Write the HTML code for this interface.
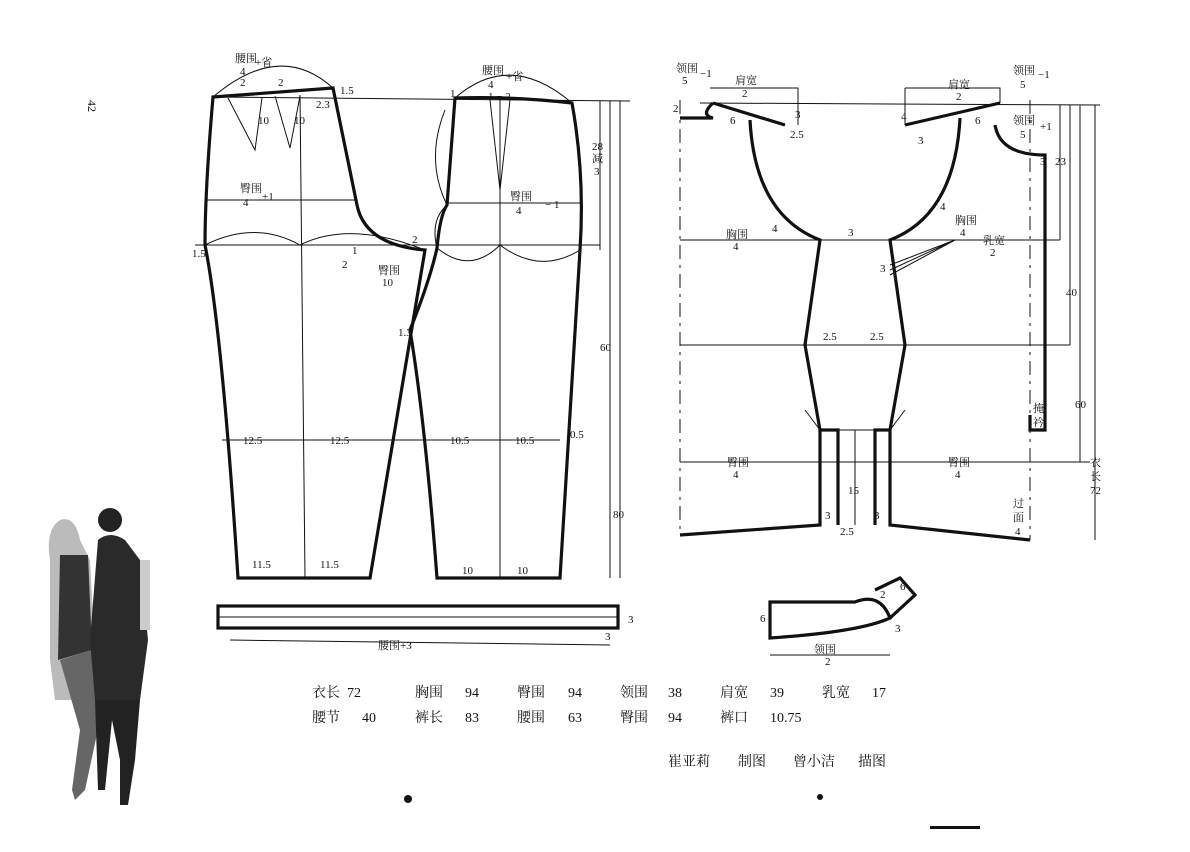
<!DOCTYPE html>
<html><head><meta charset="utf-8"><style>
html,body{margin:0;padding:0;background:#fff;}
svg{display:block;}
text{font-family:"Liberation Serif","Noto Serif CJK SC",serif;fill:#111;}
</style></head><body>
<svg width="1190" height="852" viewBox="0 0 1190 852" xmlns="http://www.w3.org/2000/svg">
<rect width="1190" height="852" fill="#fff"/>
<g fill="none" stroke="#111">
<g stroke-width="3.2">
<path d="M213,97 L333,88 L357,205 Q365,245 425,250 L370,578 L238,578 Q222,330 205,245 Q205,190 213,97 Z"/>
<path d="M455,98 Q510,96 572,103 Q585,175 580,250 L560,578 L437,578 Q425,420 410,330 Q430,280 437,248 Q440,215 447,205 Z"/>
<rect x="218" y="606" width="400" height="22"/>
</g>
<g stroke-width="1">
<line x1="195" y1="245" x2="600" y2="245"/>
<line x1="213" y1="97" x2="630" y2="101"/>
<line x1="205" y1="200" x2="357" y2="200"/>
<line x1="447" y1="203" x2="580" y2="203"/>
<line x1="222" y1="440" x2="560" y2="440"/>
<line x1="300" y1="95" x2="305" y2="578"/>
<line x1="500" y1="100" x2="500" y2="578"/>
<line x1="425" y1="250" x2="370" y2="578"/>
<path d="M228,98 L255,150 L262,98 M275,96 L290,148 L300,96 M490,100 L500,190 L510,100"/>
<path d="M205,245 Q255,220 300,245 Q350,220 425,250 M437,248 Q470,275 500,245 Q540,275 580,250"/>
<path d="M213,97 Q280,40 333,88 M455,98 Q510,50 572,103"/>
<path d="M445,110 Q425,160 447,205 Q430,220 437,248"/>
<line x1="610" y1="101" x2="610" y2="578"/>
<line x1="620" y1="101" x2="620" y2="578"/>
<line x1="600" y1="101" x2="600" y2="250"/>
<line x1="230" y1="640" x2="610" y2="645"/>
<line x1="218" y1="617" x2="618" y2="617"/>
</g>
<g stroke-width="3.2">
<path d="M713,103 L785,125 M713,103 Q700,115 713,118 L680,118"/>
<path d="M750,120 Q755,215 820,240 L805,345 L820,430 L820,525 L680,535"/>
<path d="M905,125 L1000,103 M960,118 Q955,215 890,240 L905,345 L890,430 L890,525 L1030,540"/>
<path d="M995,125 Q1000,155 1045,155 L1045,250"/>
<path d="M1030,415 L1030,430 L1045,430 L1045,250"/>
<path d="M820,430 L838,430 L838,525 M875,525 L875,430 L890,430"/>
<path d="M770,602 L855,602 Q880,592 890,618 Q860,632 770,638 Z"/>
<path d="M875,590 L900,578 L915,595 L890,618"/>
</g>
<g stroke-width="1">
<line x1="680" y1="100" x2="680" y2="535" stroke-dasharray="14,6,3,6"/>
<line x1="1030" y1="100" x2="1030" y2="540" stroke-dasharray="14,6,3,6"/>
<line x1="680" y1="240" x2="1060" y2="240"/>
<line x1="680" y1="345" x2="1070" y2="345"/>
<line x1="680" y1="462" x2="1090" y2="462"/>
<line x1="700" y1="103" x2="1100" y2="105"/>
<line x1="838" y1="430" x2="875" y2="430"/>
<line x1="855" y1="430" x2="855" y2="525"/>
<path d="M820,430 L805,410 M890,430 L905,410"/>
<path d="M890,265 L955,240 M890,270 L955,240 M890,275 L955,240"/>
<line x1="1060" y1="105" x2="1060" y2="240"/>
<line x1="1070" y1="105" x2="1070" y2="345"/>
<line x1="1080" y1="105" x2="1080" y2="462"/>
<line x1="1095" y1="105" x2="1095" y2="540"/>
<line x1="770" y1="655" x2="890" y2="655"/>
<path d="M905,88 L1000,88 L1000,103 M905,88 L905,125 M710,88 L798,88 L798,125"/>
</g>
</g>
<!-- figures -->
<g>
<path d="M50,560 Q45,530 60,520 Q75,515 80,540 L90,560 L95,650 L85,700 L55,700 L50,660 Z" fill="#bbb"/>
<path d="M60,555 L88,555 L92,650 L58,660 Z" fill="#333"/>
<path d="M60,660 L92,650 L100,720 L85,790 L75,800 L72,790 L80,730 Z" fill="#666"/>
<circle cx="110" cy="520" r="12" fill="#222"/>
<path d="M98,540 Q110,530 125,540 L140,560 L148,640 L140,700 L95,700 L90,640 Z" fill="#2a2a2a"/>
<path d="M95,700 L140,700 L135,760 L128,805 L120,805 L120,760 L112,720 L105,790 L98,790 Z" fill="#222"/>
<rect x="140" y="560" width="10" height="70" fill="#ccc"/>
</g>
<g font-size="11">
<text x="235" y="62">腰围</text><text x="240" y="75">4</text><text x="255" y="66">+省</text>
<text x="240" y="86">2</text><text x="278" y="86">2</text>
<text x="258" y="124">10</text><text x="294" y="124">10</text>
<text x="340" y="94">1.5</text><text x="316" y="108">2.3</text>
<text x="240" y="192">臀围</text><text x="243" y="206">4</text><text x="262" y="200">+1</text>
<text x="192" y="257">1.5</text><text x="352" y="254">1</text><text x="342" y="268">2</text>
<text x="378" y="274">臀围</text><text x="382" y="286">10</text>
<text x="412" y="243">2</text><text x="398" y="336">1.3</text>
<text x="482" y="74">腰围</text><text x="488" y="88">4</text><text x="506" y="80">+省</text>
<text x="450" y="97">1</text><text x="488" y="100">1 − 2</text>
<text x="510" y="200">臀围</text><text x="516" y="214">4</text><text x="545" y="208">− 1</text>
<text x="592" y="150">28</text><text x="592" y="162">减</text><text x="594" y="175">3</text>
<text x="600" y="351">60</text><text x="613" y="518">80</text>
<text x="243" y="444">12.5</text><text x="330" y="444">12.5</text>
<text x="450" y="444">10.5</text><text x="515" y="444">10.5</text><text x="570" y="438">0.5</text>
<text x="252" y="568">11.5</text><text x="320" y="568">11.5</text>
<text x="462" y="574">10</text><text x="517" y="574">10</text>
<text x="628" y="623">3</text><text x="605" y="640">3</text>
<text x="378" y="649">腰围+3</text>
<text x="676" y="72">领围</text><text x="700" y="77">−1</text><text x="682" y="84">5</text>
<text x="735" y="84">肩宽</text><text x="742" y="97">2</text>
<text x="673" y="112">2</text><text x="730" y="124">6</text><text x="795" y="118">3</text><text x="790" y="138">2.5</text>
<text x="948" y="88">肩宽</text><text x="956" y="100">2</text>
<text x="1013" y="74">领围</text><text x="1038" y="78">−1</text><text x="1020" y="88">5</text>
<text x="1013" y="124">领围</text><text x="1040" y="130">+1</text><text x="1020" y="138">5</text>
<text x="901" y="120">4</text><text x="918" y="144">3</text><text x="975" y="124">6</text>
<text x="1040" y="165">3</text><text x="1055" y="165">23</text>
<text x="726" y="238">胸围</text><text x="733" y="250">4</text><text x="772" y="232">4</text><text x="848" y="236">3</text>
<text x="940" y="210">4</text><text x="955" y="224">胸围</text><text x="960" y="236">4</text>
<text x="983" y="244">乳宽</text><text x="990" y="256">2</text><text x="880" y="272">3</text>
<text x="823" y="340">2.5</text><text x="870" y="340">2.5</text>
<text x="1066" y="296">40</text><text x="1075" y="408">60</text>
<text x="1090" y="466">衣</text><text x="1090" y="480">长</text><text x="1090" y="494">72</text>
<text x="1033" y="412">掩</text><text x="1033" y="426">衿</text>
<text x="727" y="466">臀围</text><text x="733" y="478">4</text>
<text x="948" y="466">臀围</text><text x="955" y="478">4</text>
<text x="848" y="494">15</text><text x="825" y="519">3</text><text x="874" y="519">3</text><text x="840" y="535">2.5</text>
<text x="1013" y="507">过</text><text x="1013" y="521">面</text><text x="1015" y="535">4</text>
<text x="760" y="622">6</text><text x="880" y="598">2</text><text x="895" y="632">3</text><text x="900" y="590">6</text>
<text x="814" y="653">领围</text><text x="825" y="665">2</text>
</g>
<g font-size="14">
<text x="312" y="697">衣长</text><text x="347" y="697">72</text>
<text x="415" y="697">胸围</text><text x="465" y="697">94</text>
<text x="517" y="697">臀围</text><text x="568" y="697">94</text>
<text x="620" y="697">领围</text><text x="668" y="697">38</text>
<text x="720" y="697">肩宽</text><text x="770" y="697">39</text>
<text x="822" y="697">乳宽</text><text x="872" y="697">17</text>
<text x="312" y="722">腰节</text><text x="362" y="722">40</text>
<text x="415" y="722">裤长</text><text x="465" y="722">83</text>
<text x="517" y="722">腰围</text><text x="568" y="722">63</text>
<text x="620" y="722">臀围</text><text x="668" y="722">94</text>
<text x="720" y="722">裤口</text><text x="770" y="722">10.75</text>
<text x="668" y="766">崔亚莉</text><text x="738" y="766">制图</text>
<text x="793" y="766">曾小洁</text><text x="858" y="766">描图</text>
</g>
<text x="88" y="100" font-size="12" transform="rotate(90 88 100)">42</text>
<circle cx="408" cy="799" r="4" fill="#111"/><circle cx="820" cy="797" r="3" fill="#111"/>
<rect x="930" y="826" width="50" height="3" fill="#111"/>
</svg>
</body></html>
